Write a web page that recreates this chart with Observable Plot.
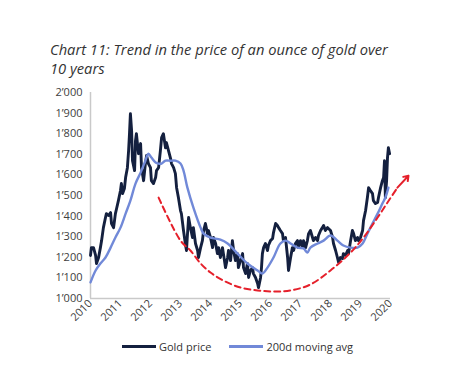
<!DOCTYPE html>
<html>
<head>
<meta charset="utf-8">
<script src="https://cdn.jsdelivr.net/npm/d3@7"></script>
<script src="https://cdn.jsdelivr.net/npm/@observablehq/plot@0.6"></script>
<style>
  html, body { margin: 0; padding: 0; background: #fff; }
  body { width: 475px; height: 382px; position: relative; overflow: hidden; font-family: "Open Sans", sans-serif; }
  #title { position: absolute; left: 50px; top: 40px; font-size: 14.7px; line-height: 19px; font-style: italic; color: #333; white-space: nowrap; }
  #chart { position: absolute; left: 0; top: 80px; }
  #legend { position: absolute; top: 339px; left: 0; width: 475px; display: flex; justify-content: center; font-size: 11px; color: #333; }
  .item { display: flex; align-items: center; margin: 0 9px; }
  .sw { width: 34px; height: 3px; margin-right: 3px; }
</style>
</head>
<body>
<div id="title">Chart 11: Trend in the price of an ounce of gold over<br>10 years</div>
<div id="chart"></div>
<div id="legend">
  <div class="item"><span class="sw" style="background:#14203f"></span>Gold price</div>
  <div class="item"><span class="sw" style="background:#7189d8"></span>200d moving avg</div>
</div>
<script>
const yearTicks = [2010, 2011, 2012, 2013, 2014, 2015, 2016, 2017, 2018, 2019, 2020];
const priceTicks = [1000, 1100, 1200, 1300, 1400, 1500, 1600, 1700, 1800, 1900, 2000];

const goldYear = [2010.00,2010.03,2010.10,2010.17,2010.20,2010.27,2010.33,2010.37,2010.43,2010.50,2010.53,2010.60,2010.67,2010.70,2010.77,2010.83,2010.87,2010.93,2011.00,2011.03,2011.07,2011.13,2011.17,2011.23,2011.27,2011.30,2011.33,2011.37,2011.40,2011.47,2011.50,2011.53,2011.60,2011.67,2011.70,2011.77,2011.83,2011.87,2011.93,2012.00,2012.03,2012.10,2012.17,2012.20,2012.27,2012.33,2012.37,2012.43,2012.50,2012.53,2012.60,2012.67,2012.70,2012.77,2012.83,2012.87,2012.93,2013.00,2013.03,2013.10,2013.17,2013.20,2013.23,2013.27,2013.33,2013.40,2013.43,2013.50,2013.57,2013.60,2013.67,2013.73,2013.77,2013.83,2013.90,2013.93,2014.00,2014.07,2014.10,2014.17,2014.23,2014.27,2014.33,2014.40,2014.43,2014.50,2014.57,2014.60,2014.67,2014.73,2014.77,2014.83,2014.90,2014.93,2015.00,2015.07,2015.10,2015.17,2015.23,2015.27,2015.33,2015.40,2015.43,2015.50,2015.57,2015.60,2015.67,2015.70,2015.73,2015.77,2015.83,2015.90,2015.93,2016.00,2016.07,2016.10,2016.17,2016.23,2016.27,2016.33,2016.40,2016.43,2016.50,2016.57,2016.60,2016.67,2016.73,2016.77,2016.83,2016.90,2016.93,2017.00,2017.07,2017.10,2017.17,2017.23,2017.27,2017.33,2017.40,2017.43,2017.50,2017.57,2017.60,2017.67,2017.73,2017.77,2017.83,2017.90,2017.93,2018.00,2018.07,2018.10,2018.17,2018.23,2018.27,2018.33,2018.40,2018.43,2018.50,2018.57,2018.60,2018.67,2018.73,2018.77,2018.83,2018.90,2018.93,2019.00,2019.07,2019.10,2019.17,2019.23,2019.27,2019.33,2019.40,2019.43,2019.50,2019.57,2019.60,2019.67,2019.73,2019.77,2019.80,2019.83,2019.87,2019.90,2019.93,2019.97];
const goldPrice = [1209,1247,1247,1209,1170,1199,1247,1281,1344,1393,1412,1403,1417,1364,1344,1412,1437,1475,1524,1558,1509,1534,1587,1635,1718,1800,1897,1815,1669,1621,1766,1800,1703,1752,1635,1572,1655,1694,1655,1635,1572,1558,1587,1621,1635,1718,1781,1800,1732,1757,1718,1679,1655,1635,1606,1538,1490,1427,1412,1330,1257,1233,1306,1393,1344,1296,1344,1267,1233,1199,1247,1281,1330,1364,1315,1330,1296,1247,1296,1267,1218,1247,1199,1247,1218,1150,1199,1233,1184,1281,1233,1184,1218,1150,1184,1218,1150,1121,1170,1102,1136,1150,1121,1102,1073,1053,1102,1150,1218,1247,1267,1233,1257,1281,1291,1320,1364,1354,1344,1330,1315,1281,1296,1199,1136,1199,1247,1233,1267,1281,1247,1281,1247,1281,1247,1281,1315,1330,1296,1281,1296,1281,1306,1330,1344,1354,1330,1344,1340,1330,1296,1267,1233,1199,1175,1199,1194,1218,1209,1233,1218,1281,1330,1315,1281,1296,1281,1296,1330,1378,1427,1490,1538,1524,1509,1475,1461,1466,1490,1538,1572,1587,1669,1490,1572,1684,1732,1703];

const maYear = [2010.00,2010.17,2010.33,2010.50,2010.67,2010.83,2011.00,2011.17,2011.33,2011.50,2011.67,2011.83,2011.93,2012.03,2012.17,2012.27,2012.37,2012.50,2012.67,2012.83,2013.00,2013.10,2013.23,2013.43,2013.67,2013.77,2014.00,2014.33,2014.57,2014.90,2015.23,2015.57,2015.73,2015.90,2016.10,2016.33,2016.50,2016.67,2016.90,2017.10,2017.23,2017.33,2017.57,2017.77,2018.00,2018.23,2018.43,2018.67,2018.90,2019.07,2019.23,2019.40,2019.57,2019.73,2019.83,2019.93];
const maPrice = [1078,1136,1170,1199,1247,1296,1344,1412,1475,1558,1611,1669,1703,1684,1660,1655,1655,1669,1669,1669,1655,1621,1538,1441,1344,1315,1296,1286,1267,1218,1170,1136,1121,1150,1199,1267,1281,1267,1247,1243,1223,1247,1267,1281,1306,1281,1257,1247,1247,1267,1315,1364,1412,1461,1490,1538];

const trendYear = [2012.27,2013.00,2013.33,2013.67,2014.00,2014.43,2015.00,2015.57,2016.10,2016.67,2017.33,2018.00,2018.67,2019.10,2019.57,2019.90,2020.23];
const trendPrice = [1490,1281,1233,1170,1126,1087,1053,1039,1034,1039,1068,1136,1223,1296,1393,1466,1538];
const arrowTip = {year: 2020.60, price: 1596};

const gold = goldYear.map((x, i) => ({x, y: goldPrice[i]}));
const ma = maYear.map((x, i) => ({x, y: maPrice[i]}));
const trend = trendYear.map((x, i) => ({x, y: trendPrice[i]}));
const last = trend[trend.length - 1];

const fmt = d => d3.format(",")(d).replace(",", "\u2019");

const chart = Plot.plot({
  width: 475,
  height: 250,
  marginLeft: 90,
  marginRight: 85,
  marginTop: 12,
  marginBottom: 32,
  style: {fontFamily: "Open Sans, sans-serif", fontSize: "11px", color: "#404040", background: "#fff"},
  x: {domain: [2010, 2020], ticks: yearTicks, tickFormat: d => String(d), tickRotate: -45, tickSize: 0, tickPadding: 3, label: null},
  y: {domain: [1000, 2000], ticks: priceTicks, tickFormat: fmt, tickSize: 0, tickPadding: 8, label: null},
  marks: [
    Plot.ruleY([1000], {x1: 2010, x2: 2020, stroke: "#c9c9c9", strokeWidth: 1.5}),
    Plot.ruleX([2010], {y1: 1000, y2: 2000, stroke: "#c9c9c9", strokeWidth: 1.5}),
    Plot.line(gold, {x: "x", y: "y", stroke: "#14203f", strokeWidth: 2.9, strokeLinejoin: "round"}),
    Plot.line(ma, {x: "x", y: "y", stroke: "#7189d8", strokeWidth: 2.4, curve: "catmull-rom"}),
    Plot.line(trend, {x: "x", y: "y", stroke: "#e5202b", strokeWidth: 2, strokeDasharray: "6,4", curve: "catmull-rom"}),
    Plot.arrow([{x1: last.x, y1: last.y, x2: arrowTip.year, y2: arrowTip.price}], {x1: "x1", y1: "y1", x2: "x2", y2: "y2", stroke: "#e5202b", strokeWidth: 2, headLength: 11, headAngle: 70, bend: 0})
  ]
});
document.getElementById("chart").appendChild(chart);
</script>
</body>
</html>
